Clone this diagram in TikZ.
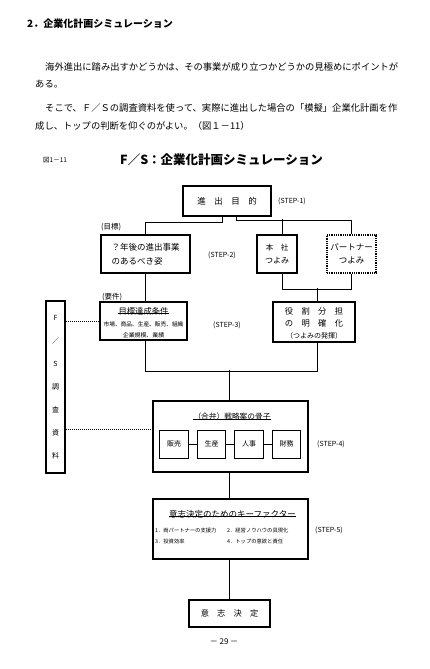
\documentclass[tikz,border=0pt]{standalone}
\usepackage{fontspec}
\setmainfont{Noto Sans CJK JP}
\newcommand\fz[2]{\fontsize{#1}{#2}\selectfont}
\begin{document}
\begin{tikzpicture}[x=1pt,y=-1pt,
  txt/.style={anchor=west,inner sep=0pt},
  ctxt/.style={inner sep=0pt},
  tbox/.style={draw,line width=1.5pt,inner sep=0pt,align=center},
  dbox/.style={draw,line width=1.5pt,dash pattern=on 1pt off 0.8pt,inner sep=0pt,align=center},
  sbox/.style={draw,line width=0.8pt,inner sep=0pt,minimum width=28.5pt,minimum height=28pt,font=\fz{7}{8}},
  conn/.style={line width=0.7pt},
  dotc/.style={line width=0.7pt,dash pattern=on 1pt off 1pt},
  uline/.style={line width=0.7pt},
  steplbl/.style={anchor=west,inner sep=0pt,font=\fz{7}{8}}]
\useasboundingbox[fill=white] (0,0) rectangle (430,669);

% header and paragraphs
\node[txt,font=\fz{10}{12}\bfseries] (hdr) at (27,24) {2．企業化計画シミュレーション};
\node[txt,font=\fz{9.3}{11}] (p1) at (45,67) {海外進出に踏み出すかどうかは、その事業が成り立つかどうかの見極めにポイントが};
\node[txt,font=\fz{9.3}{11}] (p2) at (35,84) {ある。};
\node[txt,font=\fz{9.3}{11}] (p3) at (45,108) {そこで、Ｆ／Ｓの調査資料を使って、実際に進出した場合の「模擬」企業化計画を作};
\node[txt,font=\fz{9.3}{11}] (p4) at (35,126) {成し、トップの判断を仰ぐのがよい。（図１－11）};

% figure title
\node[txt,font=\fz{6.5}{7}] (fig) at (43,160) {図1－11};
\node[txt,font=\fz{12.5}{14}\bfseries] (ttl) at (120,160) {F／S：企業化計画シミュレーション};

% STEP-1
\node[tbox,minimum width=88pt,minimum height=30pt,font=\fz{8.5}{10}] (g1) at (227,201) {進　出　目　的};
\node[steplbl] (st1) at (278,201) {(STEP-1)};

% STEP-2
\node[txt,font=\fz{7.5}{9}] (mk) at (101,227) {(目標)};
\node[tbox,minimum width=89pt,minimum height=38pt,align=left,font=\fz{8.5}{14}] (a) at (145.5,254) {？年後の進出事業\\のあるべき姿};
\node[steplbl] (st2) at (208,255) {(STEP-2)};
\node[tbox,minimum width=40pt,minimum height=38pt,font=\fz{7.5}{13}] (b) at (277,254) {本　社\\[0pt]\fz{8}{13}つよみ};
\node[dbox,minimum width=49pt,minimum height=38pt,font=\fz{8.5}{13}] (p) at (351.5,254) {パートナー\\つよみ};

% STEP-3
\node[txt,font=\fz{7.5}{9}] (yk) at (102,297) {(要件)};
\node[tbox,minimum width=87pt,minimum height=38pt] (c) at (143.5,321) {};
\node[ctxt,font=\fz{8.3}{9}] (c1) at (143.5,311) {目標達成条件};
\node[ctxt,font=\fz{5.7}{7}] (c2) at (143.5,324) {市場、商品、生産、販売、組織};
\node[ctxt,font=\fz{5.9}{7}] (c3) at (143.5,335) {企業規模、業績};
\draw[uline] ([yshift=1.5pt]c1.south west) -- ([yshift=1.5pt]c1.south east);
\node[steplbl] (st3) at (213,325) {(STEP-3)};
\node[tbox,minimum width=82pt,minimum height=40pt] (d) at (314,322) {};
\node[ctxt,font=\fz{8.3}{9}] (d1) at (314,311) {役　割　分　担};
\node[ctxt,font=\fz{8.3}{9}] (d2) at (314,323) {の　明　確　化};
\node[ctxt,font=\fz{7}{9}] (d3) at (314,336) {（つよみの発揮）};

% STEP-4
\node[tbox,minimum width=155pt,minimum height=71pt] (e) at (230.5,436.5) {};
\node[ctxt,font=\fz{7.7}{9}] (e1) at (232,417) {（合弁）戦略案の骨子};
\draw[uline] ([yshift=1.5pt]e1.south west) -- ([yshift=1.5pt]e1.south east);
\node[sbox] (s1) at (174,444) {販売};
\node[sbox] (s2) at (211.5,444) {生産};
\node[sbox] (s3) at (249,444) {人事};
\node[sbox] (s4) at (286.5,444) {財務};
\draw[conn] (s1.east) -- (s2.west);
\draw[conn] (s2.east) -- (s3.west);
\draw[conn] (s3.east) -- (s4.west);
\node[steplbl] (st4) at (317,444) {(STEP-4)};

% STEP-5
\node[tbox,minimum width=155pt,minimum height=60pt] (f) at (230.5,529) {};
\node[ctxt,font=\fz{8.5}{10}] (f1) at (232.5,514) {意志決定のためのキーファクター};
\draw[uline] ([yshift=1.5pt]f1.south west) -- ([yshift=1.5pt]f1.south east);
\node[txt,font=\fz{5.3}{6}] (k1) at (155,530) {1．両パートナーの支援力};
\node[txt,font=\fz{5.3}{6}] (k2) at (227,530) {2．経営ノウハウの具現化};
\node[txt,font=\fz{5.3}{6}] (k3) at (155,541) {3．投資効率};
\node[txt,font=\fz{5.3}{6}] (k4) at (227,541) {4．トップの意欲と責任};
\node[steplbl] (st5) at (315,530) {(STEP-5)};

% decision
\node[tbox,minimum width=81pt,minimum height=27pt,font=\fz{8.2}{10}] (g) at (229.5,613.5) {意　志　決　定};
\node[ctxt,font=\fz{8}{9}] (pg) at (224,642) {－ 29 －};

% F/S research box
\node[tbox,minimum width=19pt,minimum height=172pt,font=\fz{7}{23}] (fs) at (55.5,387) {F\\／\\S\\調\\査\\資\\料};
\coordinate (e4) at (153,429);
\draw[dotc] (c.west -| fs.east) -- (c.west);
\draw[dotc] (e4 -| fs.east) -- (e4);

% connectors
\draw[conn] ([xshift=-5pt]g1.south) -- ++(0,6) -| (a.north);
\draw[conn] ([xshift=9pt]g1.south) -- ++(0,4) -| (p.north);
\draw[conn] ([xshift=5pt]b.north) -- ++(0,-15);
\draw[conn] ([xshift=5pt]b.south) -- ++(0,16) -| (p.south);
\draw[conn] ([xshift=3pt]d.north) -- ++(0,-13);
\draw[conn] (a.south) -- (a.south |- c.north);
\draw[conn] ([xshift=1.5pt]c.south) -- ++(0,31) -| ([xshift=3pt]d.south);
\draw[conn] ([xshift=-1.5pt]e.north) -- ++(0,-30);
\draw[conn] ([xshift=-1.5pt]e.south) -- ([xshift=-1.5pt]f.north);
\draw[conn] ([xshift=-1pt]f.south) -- (g.north);
\end{tikzpicture}
\end{document}
